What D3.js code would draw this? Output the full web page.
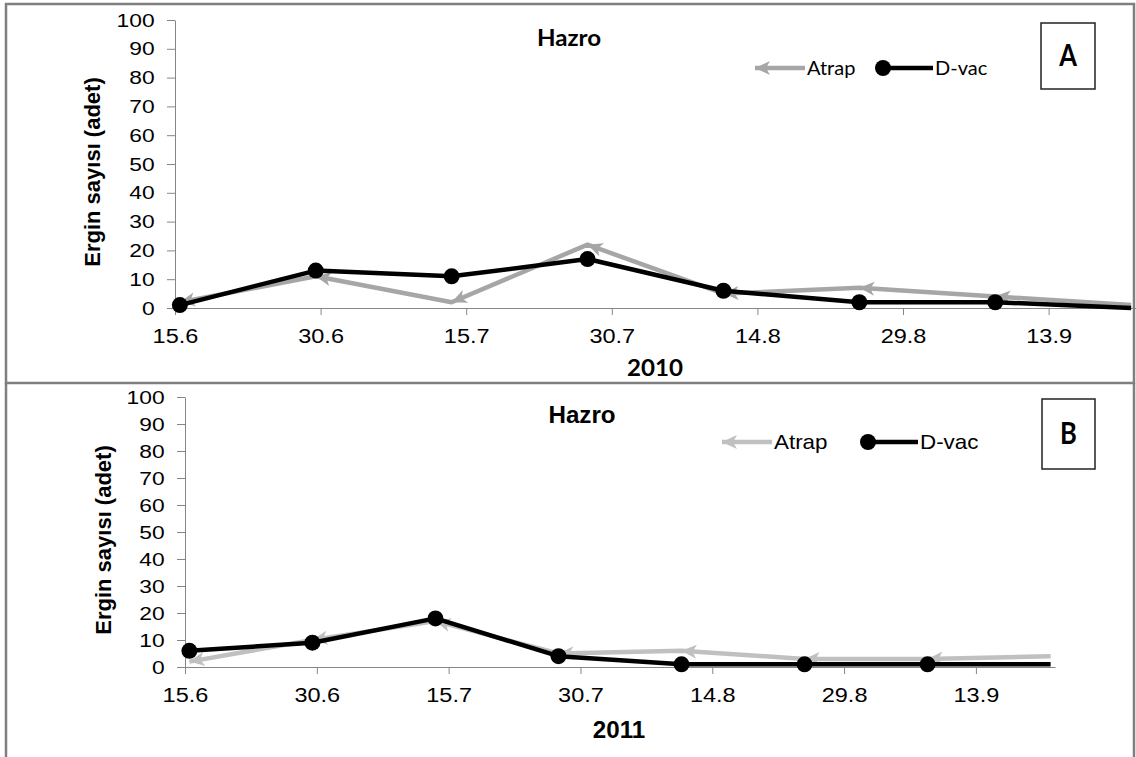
<!DOCTYPE html>
<html>
<head>
<meta charset="utf-8">
<script src="https://cdn.jsdelivr.net/npm/d3@7"></script>
<style>
  body { margin: 0; background: #fff; }
  svg { display: block; font-family: "Liberation Sans", Arial, sans-serif; }
</style>
</head>
<body>
<script>
// sampling dates, in days after 15 June
var sampleDays = [0.5, 14.5, 28.5, 42.5, 56.5, 70.5, 84.5, 98.5];
var tickDays = [0, 15, 30, 45, 60, 75, 90];
var dateLabels = ["15.6", "30.6", "15.7", "30.7", "14.8", "29.8", "13.9"];
var yTicks = [0, 10, 20, 30, 40, 50, 60, 70, 80, 90, 100];
var seriesNames = ["Atrap", "D-vac"];
var years = ["2010", "2011"];
var panelLetters = ["A", "B"];
var atrap2010 = [2, 11, 2, 22, 5, 7, 4, 1];
var dvac2010 = [1, 13, 11, 17, 6, 2, 2, 0];
var atrap2011 = [2, 10, 17, 5, 6, 3, 3, 4];
var dvac2011 = [6, 9, 18, 4, 1, 1, 1, 1];

var W = 1136, H = 757;
var svg = d3.select("body").append("svg").attr("width", W).attr("height", H);
var defs = svg.append("defs");

// panel geometry (layout only)
var panels = [
    {atrap: atrap2010, dvac: dvac2010, year: years[0], letter: panelLetters[0],
     x0: 175, x1: 1136, y0: 308, y1: 20, gray: "#a6a6a6", font: "Lato",
     titleX: 92, hazro: [569, 46], yearPos: [655, 376], legY: 68, legX: 755,
     dotGap: 128, box: [1041, 23, 54, 66], wide: 1.0},
    {atrap: atrap2011, dvac: dvac2011, year: years[1], letter: panelLetters[1],
     x0: 185, x1: 1055, y0: 667, y1: 397, gray: "#c0c0c0", font: "Liberation Sans",
     titleX: 103, hazro: [582, 423], yearPos: [619, 738], legY: 442, legX: 722,
     dotGap: 146, box: [1042, 399, 53, 70], wide: 1.12}
];

// frames
svg.append("rect").attr("x", 6).attr("y", 4).attr("width", 1128).attr("height", 379)
    .attr("fill", "none").attr("stroke", "#7f7f7f").attr("stroke-width", 2.5);
svg.append("line").attr("x1", 6).attr("x2", 6).attr("y1", 383).attr("y2", H)
    .attr("stroke", "#7f7f7f").attr("stroke-width", 2.5);
svg.append("line").attr("x1", 1134).attr("x2", 1134).attr("y1", 383).attr("y2", H)
    .attr("stroke", "#7f7f7f").attr("stroke-width", 2.5);

function arrowMarker(id, color) {
    defs.append("marker")
        .attr("id", id)
        .attr("markerUnits", "userSpaceOnUse")
        .attr("markerWidth", 30).attr("markerHeight", 30)
        .attr("viewBox", "-2 -10 30 20")
        .attr("refX", 15).attr("refY", 0)
        .attr("orient", "auto-start-reverse")
        .append("path")
        .attr("d", "M0,-7 L15,0 L0,7 L4,0 Z")
        .attr("fill", color);
}

function wideText(g, x, y, k, txt) {
    return g.append("text")
        .attr("transform", "translate(" + x + "," + y + ") scale(" + k + ",1)")
        .text(txt);
}

panels.forEach(function (p, pi) {
    var g = svg.append("g");
    var x = d3.scaleLinear().domain([0, 99]).range([p.x0, p.x1]);
    var y = d3.scaleLinear().domain([0, 100]).range([p.y0, p.y1]);
    var markId = "arr" + pi;
    arrowMarker(markId, p.gray);

    // axes
    var ya = g.append("g").attr("transform", "translate(" + p.x0 + ",0)")
        .call(d3.axisLeft(y).tickValues(yTicks).tickSize(8).tickPadding(9).tickSizeOuter(0));
    ya.selectAll("path, line").attr("stroke", "#868686");
    ya.selectAll("text").attr("font-size", 19).attr("fill", "#000")
        .attr("font-family", "Liberation Sans").attr("transform", "scale(1.2,1)");

    var xa = g.append("g").attr("transform", "translate(0," + p.y0 + ")")
        .call(d3.axisBottom(x).tickValues(tickDays)
            .tickFormat(function (d, i) { return dateLabels[i]; })
            .tickSize(7).tickPadding(13).tickSizeOuter(0));
    xa.selectAll("path, line").attr("stroke", "#868686");
    xa.selectAll("text").attr("font-size", 21).attr("fill", "#000")
        .attr("font-family", "Liberation Sans").attr("transform", "scale(1.12,1)");

    // y title
    g.append("text")
        .attr("transform", "translate(" + p.titleX + "," + ((p.y0 + p.y1) / 2 + 8) + ") rotate(-90)")
        .attr("text-anchor", "middle").attr("dy", "0.35em")
        .attr("font-size", 22).attr("font-weight", "bold")
        .text("Ergin sayısı (adet)");

    // Atrap line with arrows at each segment start
    var line = d3.line().x(function (d, i) { return x(sampleDays[i]); })
        .y(function (d) { return y(d); });
    g.append("path").datum(p.atrap).attr("d", line)
        .attr("fill", "none").attr("stroke", p.gray).attr("stroke-width", 4.5)
        .attr("stroke-linejoin", "round");
    g.selectAll(".seg").data(p.atrap.slice(0, -1)).enter().append("line")
        .attr("x1", function (d, i) { return x(sampleDays[i]); })
        .attr("y1", function (d) { return y(d); })
        .attr("x2", function (d, i) { return x(sampleDays[i + 1]); })
        .attr("y2", function (d, i) { return y(p.atrap[i + 1]); })
        .attr("stroke", "none")
        .attr("marker-start", "url(#" + markId + ")");

    // D-vac line with dots (last point has no marker)
    g.append("path").datum(p.dvac).attr("d", line)
        .attr("fill", "none").attr("stroke", "#000").attr("stroke-width", 4.5)
        .attr("stroke-linejoin", "round");
    g.selectAll(".dot").data(p.dvac.slice(0, -1)).enter().append("circle")
        .attr("cx", function (d, i) { return x(sampleDays[i]); })
        .attr("cy", function (d) { return y(d); })
        .attr("r", 8).attr("fill", "#000");

    // titles
    wideText(g, p.hazro[0], p.hazro[1], 1.05, "Hazro")
        .attr("text-anchor", "middle").attr("font-size", 23).attr("font-weight", "bold")
        .attr("font-family", p.font);
    wideText(g, p.yearPos[0], p.yearPos[1], 1.05, p.year)
        .attr("text-anchor", "middle").attr("font-size", 23).attr("font-weight", "bold")
        .attr("font-family", p.font);

    // legend
    var lg = g.append("g").attr("transform", "translate(" + p.legX + "," + p.legY + ")");
    lg.append("line").attr("x1", 0).attr("x2", 50).attr("y1", 0).attr("y2", 0)
        .attr("stroke", p.gray).attr("stroke-width", 4.5)
        .attr("marker-start", "url(#" + markId + ")");
    wideText(lg, 52, 7, p.wide, seriesNames[0])
        .attr("font-size", 20).attr("font-family", p.font);
    lg.append("line").attr("x1", p.dotGap).attr("x2", p.dotGap + 50).attr("y1", 0).attr("y2", 0)
        .attr("stroke", "#000").attr("stroke-width", 4.5);
    lg.append("circle").attr("cx", p.dotGap).attr("cy", 0).attr("r", 8).attr("fill", "#000");
    wideText(lg, p.dotGap + 52, 7, p.wide, seriesNames[1])
        .attr("font-size", 20).attr("font-family", p.font);

    // panel letter box
    g.append("rect").attr("x", p.box[0]).attr("y", p.box[1])
        .attr("width", p.box[2]).attr("height", p.box[3])
        .attr("fill", "#fff").attr("stroke", "#222").attr("stroke-width", 1.5);
    wideText(g, p.box[0] + p.box[2] / 2, p.box[1] + p.box[3] / 2 + 10, 0.85, p.letter)
        .attr("text-anchor", "middle").attr("font-size", 30).attr("font-weight", "bold")
        .attr("font-family", "Lato");
});
</script>
</body>
</html>
